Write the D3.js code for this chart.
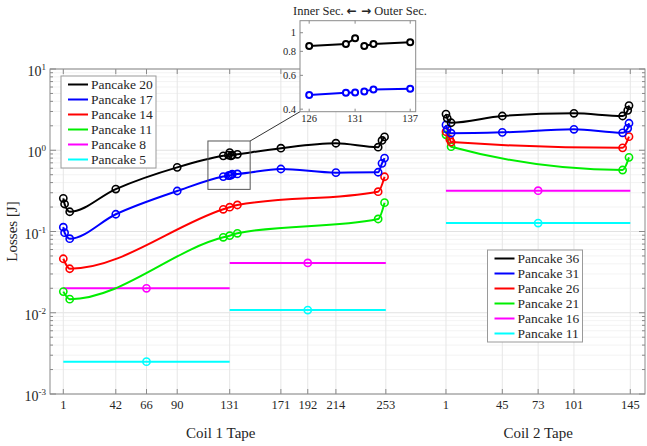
<!DOCTYPE html>
<meta charset="utf-8">
<script src="https://d3js.org/d3.v7.min.js"></script>
<style>
  body { margin: 0; background: #fff; }
  text { font-family: "Liberation Serif", "Times New Roman", serif; fill: #262626; }
</style>
<div id="my_dataviz"></div>
<script>

// tick labels of the two tape axes
var coil1Ticks = [1, 42, 66, 90, 131, 171, 192, 214, 253];
var coil2Ticks = [1, 45, 73, 101, 145];
var coil2Offset = 299;   // coil 2 tapes are drawn after coil 1 on one axis

// Coil 1 (losses in J)
var p20Tape = [1, 2, 6, 42, 90, 126, 130, 131, 132, 133, 137, 171, 214, 247, 250, 252];
var p20Loss = [0.256, 0.218, 0.175, 0.333, 0.616, 0.853, 0.873, 0.935, 0.853, 0.873, 0.891, 1.06, 1.22, 1.09, 1.32, 1.46];
var p17Tape = [1, 2, 6, 42, 90, 126, 130, 131, 132, 133, 137, 171, 214, 247, 250, 252];
var p17Loss = [0.113, 0.0966, 0.0815, 0.163, 0.315, 0.474, 0.487, 0.489, 0.495, 0.507, 0.511, 0.588, 0.53, 0.536, 0.69, 0.80];
var p14Tape = [1, 6, 126, 131, 137, 247, 252];
var p14Loss = [0.0462, 0.0348, 0.1876, 0.199, 0.212, 0.309, 0.472];
var p11Tape = [1, 6, 126, 131, 137, 247, 252];
var p11Loss = [0.0182, 0.0147, 0.0849, 0.0888, 0.095, 0.1426, 0.2265];
var p8Level = [0.02, 0.041];      // inner, outer section
var p5Level = [0.0025, 0.0108];
var coil1Sections = [[1, 131], [131, 253]];
var coil1Marks = [66, 192];

// Coil 2
var p36Tape = [1, 2, 5, 45, 101, 139, 143, 144];
var p36Loss = [2.79, 2.47, 2.18, 2.64, 2.85, 2.64, 3.1, 3.55];
var p31Tape = [1, 2, 5, 45, 101, 139, 143, 144];
var p31Loss = [2.05, 1.81, 1.62, 1.66, 1.81, 1.64, 1.86, 2.15];
var p26Tape = [1, 4, 5, 139, 144];
var p26Loss = [1.69, 1.36, 1.26, 1.07, 1.47];
var p21Tape = [1, 5, 139, 144];
var p21Loss = [1.55, 1.107, 0.571, 0.818];
var p16Level = 0.318;
var p11bLevel = 0.127;
var coil2Span = [1, 145];
var coil2Mark = 73;

// zoomed inset (Pancake 20 / 17 around the section joint)
var zoomTape = [126, 130, 131, 132, 133, 137];
var zoomP20 = [0.853, 0.873, 0.935, 0.853, 0.873, 0.891];
var zoomP17 = [0.474, 0.487, 0.489, 0.495, 0.507, 0.511];
var zoomTicks = [126, 131, 137];
var zoomYTicks = [0.4, 0.6, 0.8, 1];

var legend1 = ["Pancake 20", "Pancake 17", "Pancake 14", "Pancake 11", "Pancake 8", "Pancake 5"];
var legend2 = ["Pancake 36", "Pancake 31", "Pancake 26", "Pancake 21", "Pancake 16", "Pancake 11"];
var colors = ["#000000", "#0000ff", "#ff0000", "#00ee00", "#ff00ff", "#00ffff"];

var margin = {top: 69, right: 2, bottom: 52, left: 50},
    width = 647 - margin.left - margin.right,
    height = 446 - margin.top - margin.bottom;

var root = d3.select("#my_dataviz").append("svg")
    .attr("width", 647).attr("height", 446);
var svg = root.append("g")
    .attr("transform", "translate(" + margin.left + "," + margin.top + ")");

var x = d3.scaleLinear().domain([-9.4, 455.5]).range([0, width]);
var y = d3.scaleLog().domain([1e-3, 10]).range([height, 0]);
var x1 = function (t) { return x(t); };
var x2 = function (t) { return x(t + coil2Offset); };

var allX = coil1Ticks.map(x1).concat(coil2Ticks.map(x2));
var major = [1e-3, 1e-2, 1e-1, 1, 10];
var minor = [];
major.slice(0, 4).forEach(function (d) {
  for (var k = 2; k < 10; k++) minor.push(d * k);
});

// grid
svg.append("g").selectAll("line").data(minor).enter().append("line")
  .attr("x1", 0).attr("x2", width)
  .attr("y1", function (d) { return y(d); }).attr("y2", function (d) { return y(d); })
  .attr("stroke", "#f0f0f0").attr("stroke-width", 0.8);
svg.append("g").selectAll("line").data(major).enter().append("line")
  .attr("x1", 0).attr("x2", width)
  .attr("y1", function (d) { return y(d); }).attr("y2", function (d) { return y(d); })
  .attr("stroke", "#e2e2e2");
svg.append("g").selectAll("line").data(allX).enter().append("line")
  .attr("x1", function (d) { return d; }).attr("x2", function (d) { return d; })
  .attr("y1", 0).attr("y2", height)
  .attr("stroke", "#e6e6e6");

// axes box with inward ticks
var axisColor = "#8a8a8a";
function drawTicks(g, vals, len, side) {
  g.selectAll(null).data(vals).enter().append("line")
    .attr("x1", function (d) { return side === "left" ? 0 : side === "right" ? width : d; })
    .attr("x2", function (d) { return side === "left" ? len : side === "right" ? width - len : d; })
    .attr("y1", function (d) { return side === "bottom" ? height : side === "top" ? 0 : y(d); })
    .attr("y2", function (d) { return side === "bottom" ? height - len : side === "top" ? len : y(d); })
    .attr("stroke", axisColor);
}
var tk = svg.append("g");
drawTicks(tk, major, 6, "left");
drawTicks(tk, minor, 3, "left");
drawTicks(tk, major, 6, "right");
drawTicks(tk, minor, 3, "right");
drawTicks(tk, allX, 5, "bottom");
drawTicks(tk, allX, 5, "top");
svg.append("rect").attr("width", width).attr("height", height)
  .attr("fill", "none").attr("stroke", axisColor);

// y tick labels 10^n
var yl = svg.append("g").selectAll("text").data(major).enter().append("text")
  .attr("x", -4).attr("y", function (d) { return y(d) + 7; })
  .attr("text-anchor", "end").style("font-size", "14px");
yl.append("tspan").text("10");
yl.append("tspan").attr("dy", -6).style("font-size", "9px")
  .text(function (d) { return Math.round(Math.log10(d)) < 0 ? "-" + Math.abs(Math.round(Math.log10(d))) : Math.round(Math.log10(d)); });

// x tick labels
function xLabels(vals, f) {
  svg.append("g").selectAll("text").data(vals).enter().append("text")
    .attr("x", function (d) { return f(d); }).attr("y", height + 15)
    .attr("text-anchor", "middle").style("font-size", "12.5px")
    .text(function (d) { return d; });
}
xLabels(coil1Ticks, x1);
xLabels(coil2Ticks, x2);

svg.append("text").attr("x", x1(124)).attr("y", height + 44)
  .attr("text-anchor", "middle").style("font-size", "15px").text("Coil 1 Tape");
svg.append("text").attr("x", x2(73)).attr("y", height + 44)
  .attr("text-anchor", "middle").style("font-size", "15px").text("Coil 2 Tape");
svg.append("text").attr("transform", "rotate(-90)")
  .attr("x", -height / 2).attr("y", -33)
  .attr("text-anchor", "middle").style("font-size", "15px").text("Losses [J]");

// series
var curve = d3.line().curve(d3.curveMonotoneX);
function series(tapes, losses, f, color) {
  var pts = tapes.map(function (t, i) { return [f(t), y(losses[i])]; });
  svg.append("path").attr("d", curve(pts))
    .attr("fill", "none").attr("stroke", color).attr("stroke-width", 2);
  svg.append("g").selectAll("circle").data(pts).enter().append("circle")
    .attr("cx", function (d) { return d[0]; }).attr("cy", function (d) { return d[1]; })
    .attr("r", 3.6).attr("fill", "none").attr("stroke", color).attr("stroke-width", 1.6);
}
function level(span, value, mark, f, color) {
  svg.append("line").attr("x1", f(span[0])).attr("x2", f(span[1]))
    .attr("y1", y(value)).attr("y2", y(value))
    .attr("stroke", color).attr("stroke-width", 2);
  svg.append("circle").attr("cx", f(mark)).attr("cy", y(value)).attr("r", 3.6)
    .attr("fill", "none").attr("stroke", color).attr("stroke-width", 1.6);
}

coil1Sections.forEach(function (s, i) {
  level(s, p5Level[i], coil1Marks[i], x1, colors[5]);
  level(s, p8Level[i], coil1Marks[i], x1, colors[4]);
});
series(p11Tape, p11Loss, x1, colors[3]);
series(p14Tape, p14Loss, x1, colors[2]);
series(p17Tape, p17Loss, x1, colors[1]);
series(p20Tape, p20Loss, x1, colors[0]);

level(coil2Span, p11bLevel, coil2Mark, x2, colors[5]);
level(coil2Span, p16Level, coil2Mark, x2, colors[4]);
series(p21Tape, p21Loss, x2, colors[3]);
series(p26Tape, p26Loss, x2, colors[2]);
series(p31Tape, p31Loss, x2, colors[1]);
series(p36Tape, p36Loss, x2, colors[0]);

// legends
function legend(names, lx, ly) {
  var g = svg.append("g").attr("transform", "translate(" + lx + "," + ly + ")");
  g.append("rect").attr("width", 95).attr("height", 92)
    .attr("fill", "#fff").attr("stroke", "#9a9a9a");
  names.forEach(function (n, i) {
    var yy = 8.5 + i * 15;
    g.append("line").attr("x1", 7).attr("x2", 27).attr("y1", yy).attr("y2", yy)
      .attr("stroke", colors[i]).attr("stroke-width", 2);
    g.append("text").attr("x", 30).attr("y", yy + 4.5)
      .style("font-size", "13.5px").text(n);
  });
}
legend(legend1, 11, 7);
legend(legend2, 437.5, 181);

// zoom box in the main plot and connector
var boxX = [114, 147], boxY = [0.33, 1.3];
svg.append("rect").attr("x", x1(boxX[0])).attr("y", y(boxY[1]))
  .attr("width", x1(boxX[1]) - x1(boxX[0])).attr("height", y(boxY[0]) - y(boxY[1]))
  .attr("fill", "none").attr("stroke", "#555").attr("stroke-width", 1);

// inset
var inset = {left: 300, right: 415.7, top: 20.7, bottom: 111.7};
var ix = d3.scaleLinear().domain([125, 137.6]).range([inset.left, inset.right]);
var iy = d3.scaleLog().domain([0.388, 1.155]).range([inset.bottom, inset.top]);

root.append("line")
  .attr("x1", margin.left + x1(boxX[1])).attr("y1", margin.top + y(boxY[1]))
  .attr("x2", inset.left).attr("y2", inset.bottom)
  .attr("stroke", "#333").attr("stroke-width", 1);

var ig = root.append("g");
ig.append("rect").attr("x", inset.left).attr("y", inset.top)
  .attr("width", inset.right - inset.left).attr("height", inset.bottom - inset.top)
  .attr("fill", "#fff").attr("stroke", "#8a8a8a");
ig.selectAll(null).data(zoomTicks).enter().append("line")
  .attr("x1", function (d) { return ix(d); }).attr("x2", function (d) { return ix(d); })
  .attr("y1", inset.bottom).attr("y2", inset.bottom - 3).attr("stroke", "#8a8a8a");
ig.selectAll(null).data(zoomTicks).enter().append("line")
  .attr("x1", function (d) { return ix(d); }).attr("x2", function (d) { return ix(d); })
  .attr("y1", inset.top).attr("y2", inset.top + 3).attr("stroke", "#8a8a8a");
ig.selectAll(null).data(zoomYTicks).enter().append("line")
  .attr("x1", inset.left).attr("x2", inset.left + 3)
  .attr("y1", function (d) { return iy(d); }).attr("y2", function (d) { return iy(d); })
  .attr("stroke", "#8a8a8a");
ig.selectAll(null).data(zoomTicks).enter().append("text")
  .attr("x", function (d) { return ix(d); }).attr("y", inset.bottom + 10)
  .attr("text-anchor", "middle").style("font-size", "10.5px").text(function (d) { return d; });
ig.selectAll(null).data(zoomYTicks).enter().append("text")
  .attr("x", inset.left - 4).attr("y", function (d) { return iy(d) + 3.5; })
  .attr("text-anchor", "end").style("font-size", "10.5px").text(function (d) { return d; });

var lineStraight = d3.line();
function insetSeries(vals, color) {
  var pts = zoomTape.map(function (t, i) { return [ix(t), iy(vals[i])]; });
  ig.append("path").attr("d", lineStraight(pts.slice(0, 3)))
    .attr("fill", "none").attr("stroke", color).attr("stroke-width", 2);
  ig.append("path").attr("d", lineStraight(pts.slice(3)))
    .attr("fill", "none").attr("stroke", color).attr("stroke-width", 2);
  ig.selectAll(null).data(pts).enter().append("circle")
    .attr("cx", function (d) { return d[0]; }).attr("cy", function (d) { return d[1]; })
    .attr("r", 3).attr("fill", "#fff").attr("stroke", color).attr("stroke-width", 2);
}
insetSeries(zoomP20, colors[0]);
insetSeries(zoomP17, colors[1]);

var title = root.append("text").attr("x", 360).attr("y", 15)
  .attr("text-anchor", "middle").style("font-size", "12.5px");
title.append("tspan").text("Inner Sec. ");
title.append("tspan").style("font-family", "DejaVu Sans").style("font-weight", "bold")
  .style("font-size", "12px").text("\u2190 \u2192");
title.append("tspan").text(" Outer Sec.");

</script>
